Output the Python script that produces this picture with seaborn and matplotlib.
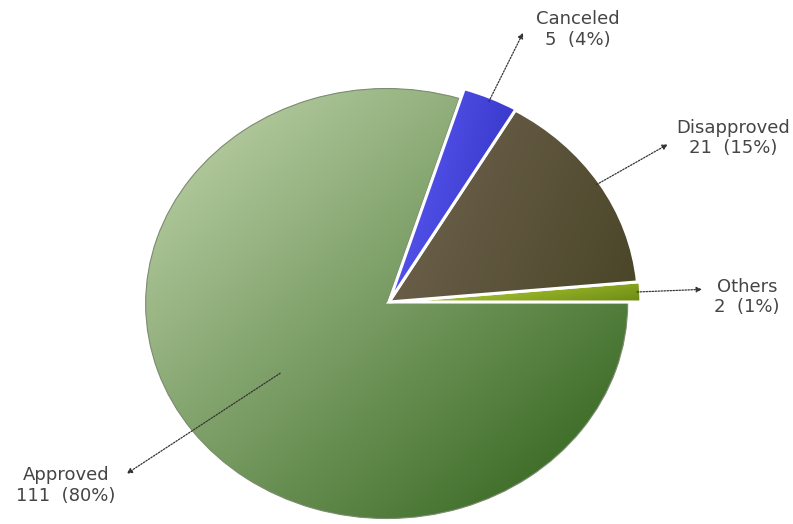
import numpy as np
import matplotlib
matplotlib.use("Agg")
import matplotlib.pyplot as plt
import seaborn as sns
from matplotlib.colors import to_rgb
from matplotlib.patches import Wedge

sns.set_theme(style="white")
plt.rcParams['font.family'] = ['DejaVu Sans']

# ---- data ----
categories = ["Others", "Disapproved", "Canceled", "Approved"]
counts = [2, 21, 5, 111]

# ---- style ----
grad_start = ["#a8c533", "#695d48", "#5252ea", "#aec699"]
grad_end = ["#6c8a12", "#4a4628", "#3a3acc", "#41702b"]
grad_dir = [(0.2, -1.0), (1.0, -0.35), (1.0, -0.2), (1.0, -1.0)]
wedge_radius = [1.045, 1.035, 1.04, 1.0]
explode = [0, 0, 0, 0.012]
arrow_r0 = [1.03, 1.02, 1.02, 0.56]
arrow_r1 = [1.30, 1.37, 1.37, 1.35]
text_dx = [9, 6, 9, -8]
text_dy = [-5.5, 4.5, 2.5, -8.5]

W, H = 793, 524
cx, cy, rx, ry = 389, 302, 241, 215

fig = plt.figure(figsize=(W / 100, H / 100), dpi=100)
ax = fig.add_axes([0, 0, 1, 1])
xlim = (-cx / rx, (W - cx) / rx)
ylim = (-(H - cy) / ry, cy / ry)

wedges, _ = ax.pie(counts, startangle=0, counterclock=True, explode=explode,
                   radius=1.0, wedgeprops=dict(linewidth=0))
ax.set_aspect('auto')

total = sum(counts)
# draw approved first (bottom), small slices on top
order = [3, 0, 1, 2]
for k, i in enumerate(order):
    w = wedges[i]
    w.set_radius(wedge_radius[i])
    w.set_facecolor(grad_start[i])
    w.set_zorder(1 + 2 * k)
    verts = w.get_path().vertices
    d = np.array(grad_dir[i], dtype=float)
    d /= np.linalg.norm(d)
    proj = verts @ d
    tmin, tmax = proj.min(), proj.max()
    n = 400
    xs = np.linspace(xlim[0], xlim[1], n)
    ys = np.linspace(ylim[0], ylim[1], n)
    X, Y = np.meshgrid(xs, ys)
    t = np.clip((X * d[0] + Y * d[1] - tmin) / (tmax - tmin), 0, 1)[..., None]
    c1 = np.array(to_rgb(grad_start[i]))
    c2 = np.array(to_rgb(grad_end[i]))
    img = c1 * (1 - t) + c2 * t
    im = ax.imshow(img, extent=(xlim[0], xlim[1], ylim[0], ylim[1]), origin='lower',
                   aspect='auto', interpolation='bilinear', zorder=1.5 + 2 * k)
    im.set_clip_path(w)
    ec = '#7d8c72' if i == 3 else 'white'
    lw = 0.8 if i == 3 else 2.2
    ow = Wedge(w.center, wedge_radius[i], w.theta1, w.theta2, facecolor='none',
               edgecolor=ec, linewidth=lw, zorder=1.8 + 2 * k)
    ax.add_patch(ow)

# labels with dotted arrows
for i, w in enumerate(wedges):
    mid = np.deg2rad((w.theta1 + w.theta2) / 2)
    x0, y0 = arrow_r0[i] * np.cos(mid), arrow_r0[i] * np.sin(mid)
    x1, y1 = arrow_r1[i] * np.cos(mid), arrow_r1[i] * np.sin(mid)
    ax.annotate("", xy=(x1, y1), xytext=(x0, y0),
                arrowprops=dict(arrowstyle='-|>', color='#333333', lw=0.9,
                                linestyle=(0, (1.2, 1.2)), mutation_scale=8,
                                shrinkA=0, shrinkB=0), zorder=20)
    pct = round(counts[i] / total * 100)
    label = f"{categories[i]}\n{counts[i]}  ({pct}%)"
    ax.annotate(label, xy=(x1, y1), xytext=(text_dx[i], text_dy[i]),
                textcoords='offset points',
                ha='left' if text_dx[i] > 0 else 'right', va='center',
                multialignment='center', fontsize=13, color='#454545', zorder=21)

ax.set_xlim(*xlim)
ax.set_ylim(*ylim)
ax.axis('off')
fig.savefig("out.png", dpi=100, facecolor='white')
